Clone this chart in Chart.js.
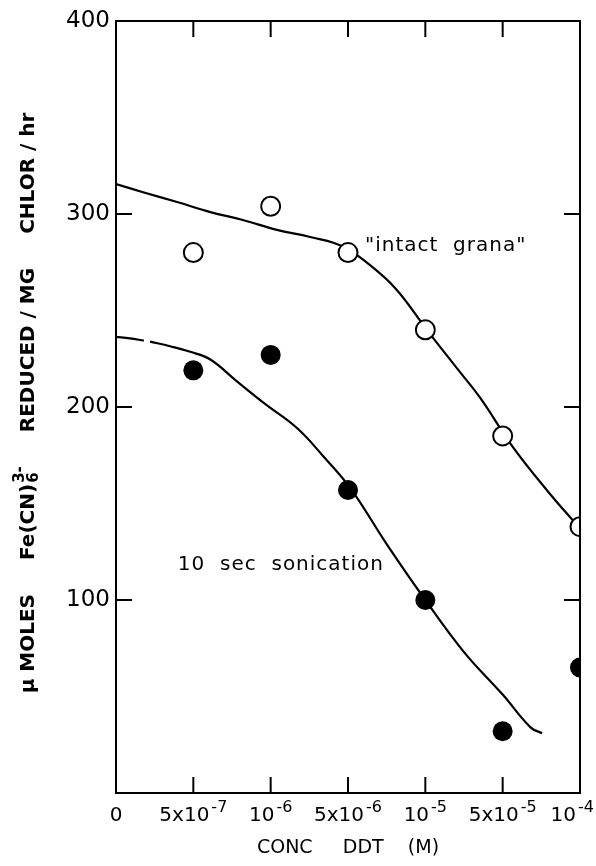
<!DOCTYPE html>
<html>
<head>
<meta charset="utf-8">
<script src="https://cdn.jsdelivr.net/npm/chart.js@4.4.1/dist/chart.umd.min.js"></script>
<style>
  html, body { margin: 0; padding: 0; background: #fff; }
  #chart-wrap { width: 596px; height: 866px; position: relative; }
</style>
</head>
<body>
<div id="chart-wrap"><canvas id="chart"></canvas></div>
<script>
// x positions are evenly spaced steps, labelled with the concentrations
const X_TICK_POS = [0, 1, 2, 3, 4, 5, 6];
const X_TICK_LABELS = ['0', '5x10^-7', '10^-6', '5x10^-6', '10^-5', '5x10^-5', '10^-4'];
const Y_TICKS = [100, 200, 300, 400];

// "intact grana" (open circles)
const GRANA_X = [1, 2, 3, 4, 5, 6];
const GRANA_Y = [280, 304, 280, 240, 185, 138];
// 10 sec sonication (filled circles)
const SONIC_X = [1, 2, 3, 4, 5, 6];
const SONIC_Y = [219, 227, 157, 100, 32, 65];

// hand drawn curves (null = pen lift)
const GRANA_CURVE_X = [0, 0.35, 0.79, 1.22, 1.64, 2.08, 2.51, 2.94, 3.42, 3.67, 4.01, 4.41, 4.71, 5.14, 5.58, 6];
const GRANA_CURVE_Y = [315.5, 311.3, 306.2, 301, 296.9, 291.8, 288.1, 283, 269, 258.8, 240.5, 220, 204.7, 178.8, 156.5, 137];
const SONIC_CURVE_X = [0, 0.18, 0.36, 0.4, 0.44, 0.70, 0.96, 1.22, 1.56, 1.91, 2.34, 2.68, 3.03, 3.5, 4, 4.5, 5, 5.36, 5.51];
const SONIC_CURVE_Y = [236.3, 235.6, 234.4, null, 233.9, 231.5, 228.6, 224.6, 213.4, 202.1, 189.1, 174.5, 158, 129, 100, 73, 51, 34, 31];

const NOTE_TEXT = ['"intact  grana"', '10  sec  sonication'];
const NOTE_X = [3.22, 0.8];
const NOTE_Y = [283.5, 118];

const X_TITLE = 'CONC     DDT    (M)';
const Y_TITLE = ['\u03bc MOLES', 'Fe(CN)_6^3-', 'REDUCED / MG', 'CHLOR / hr'];

const FONT = '"DejaVu Sans", sans-serif';
const TICK_LEN = 16;

function to_points(xs, ys) {
  return xs.map((x, i) => ({ x: x, y: ys[i] }));
}

function draw_x_label(ctx, label, cx, cy, max_right) {
  const [base, exp] = label.split('^');
  ctx.font = '20px ' + FONT;
  const wb = ctx.measureText(base).width;
  ctx.font = '16px ' + FONT;
  const we = exp ? ctx.measureText(exp).width + 2 : 0;
  const x = Math.min(cx - (wb + we) / 2, max_right - wb - we);
  ctx.font = '20px ' + FONT;
  ctx.fillText(base, x, cy);
  if (exp) {
    ctx.font = '16px ' + FONT;
    ctx.fillText(exp, x + wb + 2, cy - 8);
  }
}

function y_title_width(ctx, part) {
  const [rest, sup] = part.split('^');
  const [base, sub] = rest.split('_');
  ctx.font = 'bold 20px ' + FONT;
  let w = ctx.measureText(base).width;
  if (sub !== undefined) {
    ctx.font = 'bold 15px ' + FONT;
    w += Math.max(ctx.measureText(sub).width, ctx.measureText(sup || '').width) + 1;
  }
  return w;
}

function draw_y_title(ctx, cx, cy) {
  const gap = 34;
  const widths = Y_TITLE.map(p => y_title_width(ctx, p));
  const total = widths.reduce((a, b) => a + b, 0) + gap * (Y_TITLE.length - 1);
  ctx.save();
  ctx.translate(cx, cy);
  ctx.rotate(-Math.PI / 2);
  ctx.textAlign = 'left';
  ctx.textBaseline = 'middle';
  let x = -total / 2;
  Y_TITLE.forEach((part, i) => {
    const [rest, sup] = part.split('^');
    const [base, sub] = rest.split('_');
    ctx.font = 'bold 20px ' + FONT;
    ctx.fillText(base, x, 0);
    const wb = ctx.measureText(base).width;
    if (sub !== undefined) {
      ctx.font = 'bold 15px ' + FONT;
      ctx.fillText(sub, x + wb + 1, 5);
      if (sup) ctx.fillText(sup, x + wb + 1, -9);
    }
    x += widths[i] + gap;
  });
  ctx.restore();
}

const FRAME_PLUGIN = {
  id: 'frame',
  afterDatasetsDraw(chart) {
    const { ctx, chartArea: a } = chart;
    const xs = chart.scales.x;
    const ys = chart.scales.y;
    ctx.save();
    ctx.strokeStyle = '#000';
    ctx.fillStyle = '#000';
    ctx.lineWidth = 2;
    ctx.strokeRect(a.left, a.top, a.right - a.left, a.bottom - a.top);

    // inward tick marks on all four sides
    ctx.beginPath();
    X_TICK_POS.filter(v => v > xs.min && v < xs.max).forEach(v => {
      const px = xs.getPixelForValue(v);
      ctx.moveTo(px, a.bottom); ctx.lineTo(px, a.bottom - TICK_LEN);
      ctx.moveTo(px, a.top); ctx.lineTo(px, a.top + TICK_LEN);
    });
    Y_TICKS.filter(v => v > ys.min && v < ys.max).forEach(v => {
      const py = ys.getPixelForValue(v);
      ctx.moveTo(a.left, py); ctx.lineTo(a.left + TICK_LEN, py);
      ctx.moveTo(a.right, py); ctx.lineTo(a.right - TICK_LEN, py);
    });
    ctx.stroke();

    // x tick labels with superscript exponents
    ctx.textAlign = 'left';
    ctx.textBaseline = 'middle';
    X_TICK_POS.forEach((v, i) => {
      draw_x_label(ctx, X_TICK_LABELS[i], xs.getPixelForValue(v), a.bottom + 23, chart.width - 2);
    });

    // curve labels
    ctx.font = '20px ' + FONT;
    ctx.letterSpacing = '1px';
    NOTE_TEXT.forEach((t, i) => {
      ctx.fillText(t, xs.getPixelForValue(NOTE_X[i]), ys.getPixelForValue(NOTE_Y[i]));
    });
    ctx.letterSpacing = '0px';

    draw_y_title(ctx, 29, (a.top + a.bottom) / 2 - 4);
    ctx.restore();
  },
};

const CHART_OPTIONS = {
  responsive: true,
  maintainAspectRatio: false,
  animation: false,
  devicePixelRatio: 1,
  layout: {
    padding: { top: 21, right: 16, left: 0, bottom: 0 },
  },
  plugins: {
    legend: { display: false },
    tooltip: { enabled: false },
  },
  scales: {
    x: {
      type: 'linear',
      min: 0,
      max: 6,
      afterBuildTicks: (scale) => { scale.ticks = X_TICK_POS.map(v => ({ value: v })); },
      grid: { display: false, drawTicks: false },
      border: { display: false },
      ticks: { display: false },
      title: {
        display: true,
        text: X_TITLE,
        color: '#000',
        font: { family: FONT, size: 19 },
        padding: { top: 0, bottom: 7 },
      },
      afterFit: (scale) => { scale.height = 73; },
    },
    y: {
      type: 'linear',
      min: 0,
      max: 400,
      afterBuildTicks: (scale) => { scale.ticks = [0, ...Y_TICKS].map(v => ({ value: v })); },
      grid: { display: false, drawTicks: false },
      border: { display: false },
      ticks: {
        color: '#000',
        padding: 6,
        font: { family: FONT, size: 23 },
        callback: (v) => v === 0 ? '' : String(v),
      },
      afterFit: (scale) => { scale.width = 116; },
    },
  },
};

function make_curve(xs, ys) {
  return {
    data: to_points(xs, ys),
    showLine: true,
    spanGaps: false,
    tension: 0.4,
    borderColor: '#000',
    borderWidth: 2.2,
    pointRadius: 0,
    order: 1,
  };
}

const CHART = new Chart(document.getElementById('chart'), {
  type: 'scatter',
  data: {
    datasets: [
      {
        data: to_points(GRANA_X, GRANA_Y),
        pointRadius: 9.5,
        pointBorderWidth: 2,
        pointBorderColor: '#000',
        pointBackgroundColor: '#fff',
        order: 0,
      },
      {
        data: to_points(SONIC_X, SONIC_Y),
        pointRadius: 10,
        pointBorderWidth: 0,
        pointBackgroundColor: '#000',
        order: 0,
      },
      make_curve(GRANA_CURVE_X, GRANA_CURVE_Y),
      make_curve(SONIC_CURVE_X, SONIC_CURVE_Y),
    ],
  },
  options: CHART_OPTIONS,
  plugins: [FRAME_PLUGIN],
});
</script>
</body>
</html>
